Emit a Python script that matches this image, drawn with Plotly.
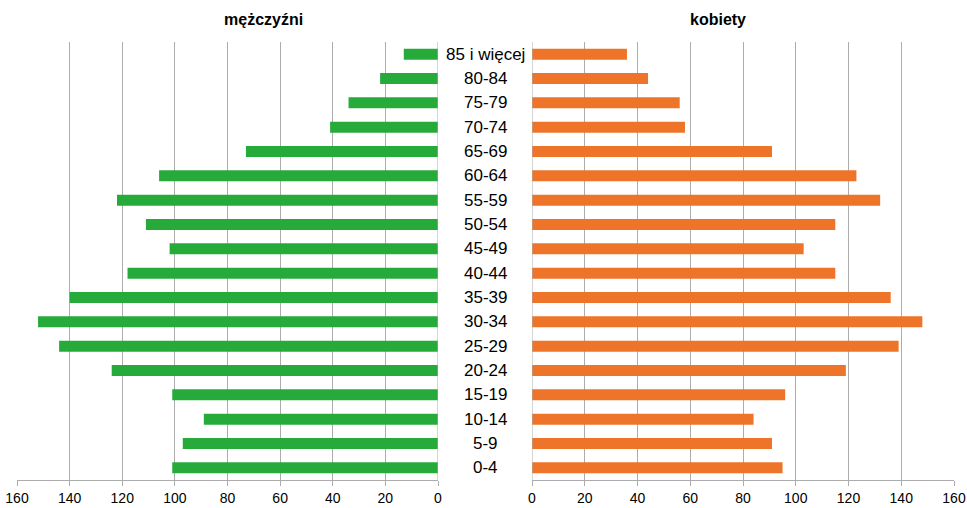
import plotly.graph_objects as go

age_groups = ["0-4", "5-9", "10-14", "15-19", "20-24", "25-29", "30-34", "35-39",
              "40-44", "45-49", "50-54", "55-59", "60-64", "65-69", "70-74",
              "75-79", "80-84", "85 i więcej"]
men = [101, 97, 89, 101, 124, 144, 152, 140, 118, 102, 111, 122, 106, 73, 41, 34, 22, 13]
women = [95, 91, 84, 96, 119, 139, 148, 136, 115, 103, 115, 132, 123, 91, 58, 56, 44, 36]
x_ticks = [0, 20, 40, 60, 80, 100, 120, 140, 160]
title_men = "mężczyźni"
title_women = "kobiety"

W, H = 967, 508
TOP, BOTTOM = 42, 480
PH = BOTTOM - TOP
green = "#26ab3b"
orange = "#ee7429"
grid = "#acacac"

fig = go.Figure()
fig.add_trace(go.Bar(y=age_groups, x=men, orientation="h", marker=dict(color=green, line=dict(width=0)),
                     xaxis="x", yaxis="y", width=0.45, showlegend=False, hoverinfo="skip"))
fig.add_trace(go.Bar(y=age_groups, x=women, orientation="h", marker=dict(color=orange, line=dict(width=0)),
                     xaxis="x2", yaxis="y2", width=0.45, showlegend=False, hoverinfo="skip"))

axis_common = dict(tickvals=x_ticks, ticktext=[str(t) for t in x_ticks], showgrid=True, gridcolor=grid,
                   gridwidth=1, zeroline=False, showline=True, linecolor=grid, linewidth=1,
                   ticks="outside", ticklen=5, tickcolor=grid, automargin=False,
                   tickfont=dict(family="Liberation Sans, Arial", size=14, color="#000"))
fig.update_layout(
    width=W, height=H, autosize=False,
    margin=dict(l=0, r=0, t=TOP, b=H - BOTTOM, pad=0),
    plot_bgcolor="white", paper_bgcolor="white",
    xaxis=dict(domain=[17 / W, 438 / W], range=[160, 0], anchor="y", **axis_common),
    xaxis2=dict(domain=[532 / W, 954 / W], range=[0, 160], anchor="y2", **axis_common),
    yaxis=dict(anchor="x", categoryorder="array", categoryarray=age_groups, showticklabels=False,
               showgrid=False, zeroline=False, showline=False, automargin=False,
               range=[-0.5, len(age_groups) - 0.5]),
    yaxis2=dict(anchor="x2", matches="y", categoryorder="array", categoryarray=age_groups,
                showticklabels=False, showgrid=False, zeroline=False, showline=False, automargin=False),
)

# vertical axis lines at zero
fig.add_shape(type="line", xref="x", yref="paper", x0=0, x1=0, y0=0, y1=1, line=dict(color=grid, width=1))
fig.add_shape(type="line", xref="x2", yref="paper", x0=0, x1=0, y0=0, y1=1, line=dict(color=grid, width=1))

for g in age_groups:
    fig.add_annotation(x=485 / W, xref="paper", y=g, yref="y", text=g, showarrow=False,
                       xanchor="center", font=dict(family="Liberation Sans, Arial", size=17, color="#000"))

title_y = 1 + (TOP - 20) / PH
fig.add_annotation(x=221.5 / W, y=title_y, xref="paper", yref="paper", text=f"<b>{title_men}</b>",
                   showarrow=False, yanchor="middle",
                   font=dict(family="Liberation Sans, Arial", size=16, color="#000"))
fig.add_annotation(x=747.5 / W, y=title_y, xref="paper", yref="paper", text=f"<b>{title_women}</b>",
                   showarrow=False, yanchor="middle",
                   font=dict(family="Liberation Sans, Arial", size=16, color="#000"))

fig.write_html("out.html", config={"responsive": False, "displayModeBar": False},
               post_script="document.body.style.margin='0';document.body.style.overflow='hidden';")
